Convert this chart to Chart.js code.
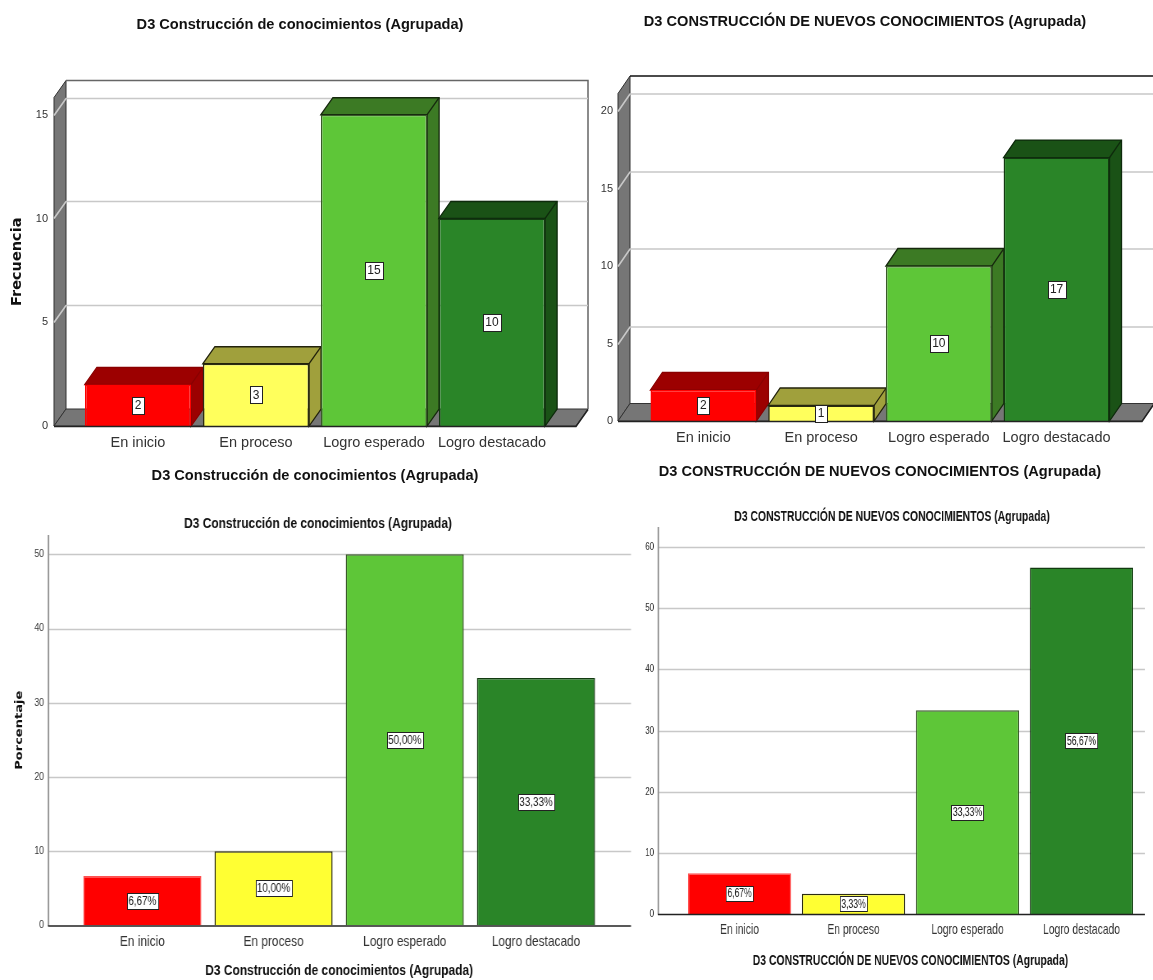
<!DOCTYPE html>
<html lang="es">
<head>
<meta charset="utf-8">
<title>D3 Construcción de conocimientos</title>
<script src="https://cdn.jsdelivr.net/npm/chart.js@4/dist/chart.umd.js"></script>
<style>
    html, body { margin: 0; padding: 0; background: #fff; overflow: hidden; }
    #lienzo { position: relative; width: 1153px; height: 980px; overflow: hidden; }
    canvas { position: absolute; transform-origin: left top; }
</style>
</head>
<body>
<div id="lienzo">
    <canvas id="frecuenciaD3" style="left:0;top:0"></canvas>
    <canvas id="frecuenciaNuevos" style="left:577px;top:0"></canvas>
    <canvas id="porcentajeD3" style="left:0;top:490px"></canvas>
    <canvas id="porcentajeNuevos" style="left:631px;top:490px"></canvas>
</div>
<script>
const categorias = ["En inicio", "En proceso", "Logro esperado", "Logro destacado"];

const valoresFrecuenciaD3 = [2, 3, 15, 10];
const valoresFrecuenciaNuevos = [2, 1, 10, 17];
const valoresPorcentajeD3 = [6.67, 10.00, 50.00, 33.33];
const valoresPorcentajeNuevos = [6.67, 3.33, 33.33, 56.67];

const tituloD3 = "D3 Construcción de conocimientos (Agrupada)";
const tituloNuevos = "D3 CONSTRUCCIÓN DE NUEVOS CONOCIMIENTOS (Agrupada)";

const coloresFrente3d = ["#ff0000", "#ffff5c", "#5ec638", "#2a8528"];
const coloresFrentePlano = ["#ff0000", "#ffff33", "#5ec638", "#2a8528"];
const coloresCara = ["#9c0000", "#a0a03c", "#3c7a24", "#1a5216"];
const coloresLineaCara = ["#8a0000", "#23230c", "#16280e", "#0e2a0c"];
const coloresBorde3d = ["#ff0000", "#2c2c10", "#3a5a2a", "#123a10"];
const coloresBordePlano = ["#ff5050", "#2c2c10", "#3a5a2a", "#123a10"];

const fuenteTexto = "'Liberation Sans', Arial, sans-serif";

// paredes, rejilla y caras laterales van antes de las barras; las etiquetas despues
const pluginCaja = {
    id: "caja",
    afterLayout(chart, args, o) {
        // el titulo se centra en la hoja, no en el area de las barras
        chart.titleBlock.left = 0;
        chart.titleBlock.right = o.centroTitulo * 2;
    },
    beforeDatasetsDraw(chart, args, o) {
        const { ctx, scales: { y } } = chart;
        const fondo = y.getPixelForValue(0);
        const arriba = y.top;
        ctx.save();

        if (o.dx) {
            // pared lateral y piso
            ctx.fillStyle = "#767676";
            ctx.strokeStyle = "#333";
            ctx.lineWidth = 1;
            ctx.beginPath();
            ctx.moveTo(o.izq, arriba);
            ctx.lineTo(o.izq + o.dx, arriba - o.dy);
            ctx.lineTo(o.izq + o.dx, fondo - o.dy);
            ctx.lineTo(o.izq, fondo);
            ctx.closePath();
            ctx.fill();
            ctx.stroke();

            ctx.beginPath();
            ctx.moveTo(o.izq, fondo);
            ctx.lineTo(o.izq + o.dx, fondo - o.dy);
            ctx.lineTo(o.der + o.dx, fondo - o.dy);
            ctx.lineTo(o.der, fondo);
            ctx.closePath();
            ctx.fill();
            ctx.stroke();

            // borde de la pared del fondo
            ctx.strokeStyle = o.colorMarco;
            ctx.lineWidth = 1.5;
            ctx.beginPath();
            ctx.moveTo(o.izq + o.dx, arriba - o.dy);
            ctx.lineTo(o.der + o.dx, arriba - o.dy);
            ctx.lineTo(o.der + o.dx, fondo - o.dy);
            ctx.stroke();
        }

        // rejilla a partir de los ticks del eje
        ctx.strokeStyle = "#c8c8c8";
        ctx.lineWidth = 1.6;
        y.ticks.forEach(t => {
            if (t.value === 0) return;
            const py = Math.round(y.getPixelForValue(t.value)) + 0.5;
            ctx.beginPath();
            ctx.moveTo(o.izq, py);
            if (o.dx) ctx.lineTo(o.izq + o.dx, py - o.dy);
            ctx.lineTo(o.der + (o.dx || 0), py - (o.dy || 0));
            ctx.stroke();
        });

        // caras superior y derecha de cada barra
        if (o.dx) {
            ctx.lineWidth = 1.3;
            chart.getDatasetMeta(0).data.forEach((barra, i) => {
                const { x, y: tope, base, width } = barra.getProps(["x", "y", "base", "width"], true);
                const a = x - width / 2;
                const b = x + width / 2;
                ctx.fillStyle = coloresCara[i];
                ctx.strokeStyle = coloresLineaCara[i];
                ctx.beginPath();
                ctx.moveTo(a, tope);
                ctx.lineTo(a + o.dx, tope - o.dy);
                ctx.lineTo(b + o.dx, tope - o.dy);
                ctx.lineTo(b + o.dx, base - o.dy);
                ctx.lineTo(b, base);
                ctx.lineTo(b, tope);
                ctx.closePath();
                ctx.fill();
                ctx.stroke();
                ctx.beginPath();
                ctx.moveTo(b, tope);
                ctx.lineTo(b + o.dx, tope - o.dy);
                ctx.stroke();
            });
        }
        ctx.restore();
    },
    afterDatasetsDraw(chart, args, o) {
        const { ctx, scales: { y } } = chart;
        const fondo = y.getPixelForValue(0) + 0.5;
        ctx.save();

        // linea base y eje vertical
        if (!o.dx) {
            ctx.strokeStyle = "#999";
            ctx.lineWidth = 2;
            ctx.beginPath();
            ctx.moveTo(o.izq + 0.5, y.top);
            ctx.lineTo(o.izq + 0.5, fondo);
            ctx.stroke();
        }
        ctx.strokeStyle = "#222";
        ctx.lineWidth = 1.5;
        ctx.beginPath();
        ctx.moveTo(o.izq, fondo);
        ctx.lineTo(o.der, fondo);
        if (o.dx) ctx.lineTo(o.der + o.dx, fondo - o.dy);
        ctx.stroke();

        // recuadro con el valor en el centro de cada barra
        ctx.font = o.fuenteValor;
        ctx.textAlign = "center";
        ctx.textBaseline = "middle";
        const serie = chart.data.datasets[0].data;
        chart.getDatasetMeta(0).data.forEach((barra, i) => {
            const { x, y: tope, base } = barra.getProps(["x", "y", "base"], true);
            const cy = (tope + base) / 2;
            const texto = o.formato(serie[i]);
            const w = Math.round(ctx.measureText(texto).width + o.margen);
            const h = o.altoValor;
            const bx = Math.round(x - w / 2) + 0.5;
            const by = Math.round(cy - h / 2) + 0.5;
            ctx.fillStyle = "#fff";
            ctx.strokeStyle = "#222";
            ctx.lineWidth = 1;
            ctx.fillRect(bx, by, w, h);
            ctx.strokeRect(bx, by, w, h);
            ctx.fillStyle = "#222";
            ctx.fillText(texto, x, cy + 0.5);
        });
        ctx.restore();
    }
};

const conPorcentaje = v => v.toFixed(2).replace(".", ",") + "%";

// k comprime la hoja a lo ancho: las medidas de c van en pixeles de pantalla
function crearGrafico(id, c) {
    const k = c.k || 1;
    const lienzo = document.getElementById(id);
    lienzo.width = Math.round(c.ancho / k);
    lienzo.height = 490;
    if (k !== 1) lienzo.style.transform = `scaleX(${k})`;

    const fuenteTitulo = { family: fuenteTexto, weight: "bold", size: 14.6 };

    new Chart(lienzo, {
        type: "bar",
        plugins: [pluginCaja],
        data: {
            labels: categorias,
            datasets: [{
                data: c.valores,
                backgroundColor: c.relleno,
                borderColor: c.bordes,
                borderWidth: 1.5,
                barPercentage: c.anchoBarra,
                categoryPercentage: 1
            }]
        },
        options: {
            responsive: false,
            animation: false,
            layout: { autoPadding: false, padding: { right: lienzo.width - c.derArea / k } },
            plugins: {
                legend: { display: false },
                tooltip: { enabled: false },
                title: {
                    display: true,
                    text: c.titulo,
                    color: "#111",
                    font: fuenteTitulo,
                    padding: c.paddingTitulo
                },
                caja: {
                    izq: c.izq / k,
                    der: c.der / k,
                    dx: c.dx ? c.dx / k : 0,
                    dy: c.dy || 0,
                    colorMarco: c.colorMarco,
                    centroTitulo: c.centroTitulo / k,
                    fuenteValor: c.fuenteValor,
                    margen: c.margenValor / k,
                    altoValor: c.altoValor,
                    formato: c.formato
                }
            },
            scales: {
                x: {
                    grid: { display: false, drawTicks: false },
                    border: { display: false },
                    afterFit: s => { s.height = c.altoX; },
                    ticks: { font: { family: fuenteTexto, size: 14.5 }, color: "#333", padding: c.paddingCategoria, maxRotation: 0, autoSkip: false },
                    title: { display: true, text: c.titulo, color: "#111", font: fuenteTitulo, padding: { top: 0, bottom: c.paddingTituloX } }
                },
                y: {
                    min: 0,
                    max: c.maximo,
                    grid: { display: false, drawTicks: false },
                    border: { display: false },
                    // el padding de los ticks no debe empujar el area hacia abajo
                    afterFit: s => { s.width = c.izqArea / k; s.paddingTop = 0; s.paddingBottom = 0; },
                    ticks: { stepSize: c.paso, includeBounds: false, font: { family: fuenteTexto, size: c.tamanoEje }, color: "#333", padding: c.paddingEje / k },
                    title: {
                        display: !!c.tituloY,
                        text: c.tituloY,
                        color: "#111",
                        font: { family: "'DejaVu Sans'", weight: "bold", size: c.tamanoTituloY },
                        padding: { top: c.paddingTituloY, bottom: 0 }
                    }
                }
            }
        }
    });
}

crearGrafico("frecuenciaD3", {
    valores: valoresFrecuenciaD3,
    relleno: coloresFrente3d,
    bordes: coloresBorde3d,
    titulo: tituloD3,
    tituloY: "Frecuencia",
    tamanoTituloY: 14.5,
    paddingTituloY: 8.3,
    ancho: 600,
    maximo: 15.83,
    paso: 5,
    anchoBarra: 0.9,
    izqArea: 79,
    derArea: 551,
    altoX: 64,
    centroTitulo: 300,
    paddingTitulo: { top: 16, bottom: 64 },
    paddingTituloX: 5.2,
    paddingCategoria: 8,
    paddingEje: 31,
    tamanoEje: 11,
    izq: 54,
    der: 576,
    dx: 12,
    dy: 17,
    colorMarco: "#666",
    fuenteValor: "12px " + fuenteTexto,
    margenValor: 5,
    altoValor: 17,
    formato: String
});

crearGrafico("frecuenciaNuevos", {
    valores: valoresFrecuenciaNuevos,
    relleno: coloresFrente3d,
    bordes: coloresBorde3d,
    titulo: tituloNuevos,
    ancho: 576,
    maximo: 21.13,
    paso: 5,
    anchoBarra: 0.9,
    izqArea: 67.6,
    derArea: 538.4,
    altoX: 69,
    centroTitulo: 288,
    paddingTitulo: { top: 13, bottom: 63 },
    paddingTituloX: 9.2,
    paddingCategoria: 8,
    paddingEje: 31.6,
    tamanoEje: 11,
    izq: 41,
    der: 565,
    dx: 12,
    dy: 17.5,
    colorMarco: "#111",
    fuenteValor: "12px " + fuenteTexto,
    margenValor: 5,
    altoValor: 17,
    formato: String
});

crearGrafico("porcentajeD3", {
    k: 0.82,
    valores: valoresPorcentajeD3,
    relleno: coloresFrentePlano,
    bordes: coloresBordePlano,
    titulo: tituloD3,
    tituloY: "Porcentaje",
    tamanoTituloY: 13,
    paddingTituloY: 15.5,
    ancho: 636,
    maximo: 52.6,
    paso: 10,
    anchoBarra: 0.9,
    izqArea: 76.7,
    derArea: 601.6,
    altoX: 54.5,
    centroTitulo: 318,
    paddingTitulo: { top: 25.7, bottom: 1.8 },
    paddingTituloX: 0,
    paddingCategoria: 8,
    paddingEje: 32.7,
    tamanoEje: 10.5,
    izq: 48,
    der: 631,
    fuenteValor: "12px " + fuenteTexto,
    margenValor: 3,
    altoValor: 16,
    formato: conPorcentaje
});

crearGrafico("porcentajeNuevos", {
    k: 0.713,
    valores: valoresPorcentajeNuevos,
    relleno: coloresFrentePlano,
    bordes: coloresBordePlano,
    titulo: tituloNuevos,
    ancho: 522,
    maximo: 63.3,
    paso: 10,
    anchoBarra: 0.904,
    izqArea: 51.5,
    derArea: 507.5,
    altoX: 66,
    centroTitulo: 261,
    paddingTitulo: { top: 18, bottom: 1.5 },
    paddingTituloX: 10.2,
    paddingCategoria: 7,
    paddingEje: 28.5,
    tamanoEje: 11,
    izq: 27,
    der: 514,
    fuenteValor: "12px " + fuenteTexto,
    margenValor: 3,
    altoValor: 15,
    formato: conPorcentaje
});
</script>
</body>
</html>
